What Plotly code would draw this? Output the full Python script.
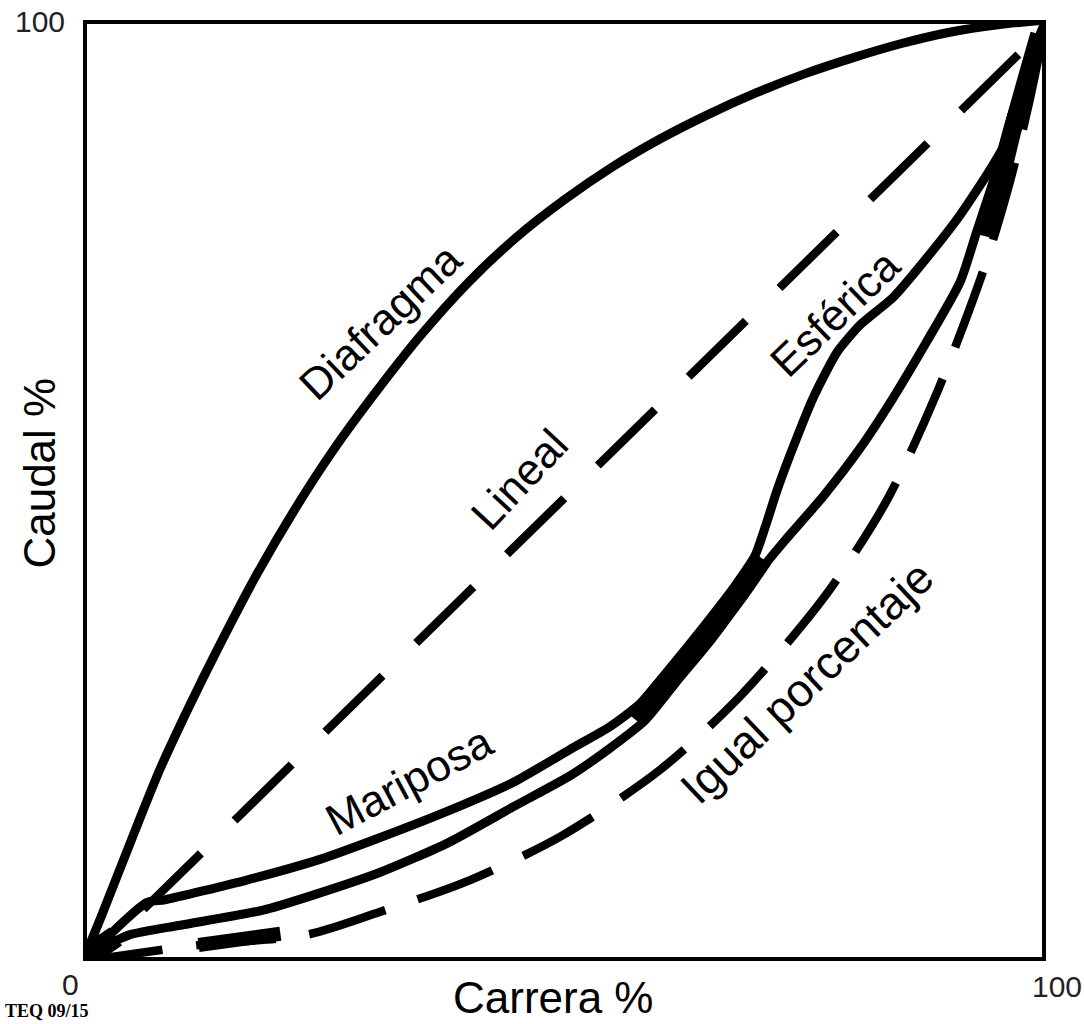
import plotly.graph_objects as go

# ---------------- data (Carrera % vs Caudal %) ----------------
diafragma_x = [0, 2, 5, 8, 11, 14, 18, 22, 26, 30, 35, 40, 45, 50, 55, 60, 65, 70, 75, 80,
               85, 90, 95, 100]
diafragma_y = [0, 5.0, 12.8, 20.4, 27.0, 33.2, 41.0, 48.0, 54.3, 59.9, 66.4, 72.1, 76.9, 80.9,
               84.4, 87.4, 90.0, 92.3, 94.3, 96.0, 97.5, 98.7, 99.5, 100]

lineal_x = [6.3, 100]
lineal_y = [5.5, 99.2]

mariposa_x = [0, 6.6, 8.5, 17.0, 24.6, 30.8, 37.8, 44.7, 50.6, 54.7, 57.8, 61.2, 64.6, 67.7,
              69.8, 70.9, 72.1, 73.7, 75.8, 78.3, 80.7, 84.1, 87.6, 91.1, 94.5, 97.3, 99.4, 100]
mariposa_y = [0, 6.2, 6.5, 8.6, 10.8, 13.1, 15.9, 19.0, 22.5, 24.9, 27.3, 31.3, 35.6, 39.6,
              43.1, 46.3, 50.1, 54.5, 59.8, 64.7, 67.6, 70.5, 74.7, 79.3, 84.6, 89.9, 97.3, 100]

esferica_x = [0, 2.3, 4.9, 10.1, 18.7, 23.9, 30.8, 37.8, 44.7, 50.6, 54.7, 58.4, 61.8, 65.2,
              68.3, 70.8, 72.9, 76.8, 80.7, 84.1, 87.6, 91.1, 92.8, 94.5, 96.3, 98.3, 100]
esferica_y = [0, 1.6, 2.8, 3.8, 5.4, 7.0, 9.4, 12.5, 16.4, 19.7, 22.6, 25.6, 29.9, 34.1,
              38.4, 42.1, 44.7, 49.3, 54.5, 59.8, 65.8, 72.2, 77.5, 82.8, 89.4, 95.7, 100]

igual_x = [0, 12.1, 23.3, 30.8, 40.2, 49.7, 59.9, 68.2, 77.0, 83.5, 88.8, 93.5, 96.3, 98.3, 100]
igual_y = [0, 1.7, 2.8, 5.2, 8.6, 13.3, 20.3, 28.1, 38.7, 49.0, 60.7, 73.4, 83.0, 91.5, 100]

# dark zones where several curves run together
banda_x = [57.4, 61.5, 64.9, 68.0, 70.5]
banda_y = [25.6, 30.7, 35.0, 39.1, 42.8]
banda_sup_x = [93.8, 94.8, 96.8, 99.3]
banda_sup_y = [77.0, 81.0, 89.4, 98.5]
banda_inf_x = [12.0, 20.5]
banda_inf_y = [1.7, 2.9]
banda_origen_x = [0.4, 3.4]
banda_origen_y = [0.5, 2.6]

curve_labels = ["Diafragma", "Lineal", "Esférica", "Mariposa", "Igual porcentaje"]
tick_labels = ["0", "100", "100"]

# ---------------- figure ----------------
fig = go.Figure()

def add_line(x, y, width, dash="solid", shape="spline", smoothing=0.8):
    fig.add_trace(go.Scatter(
        x=x, y=y, mode="lines",
        line=dict(color="black", width=width, dash=dash, shape=shape, smoothing=smoothing),
        hoverinfo="skip", showlegend=False, cliponaxis=False))

add_line(diafragma_x, diafragma_y, 9)
add_line(lineal_x, lineal_y, 8.5, dash="80px,47px", shape="linear")
add_line(mariposa_x, mariposa_y, 9, smoothing=0.6)
add_line(esferica_x, esferica_y, 9, smoothing=0.6)
add_line(igual_x, igual_y, 8.5, dash="80px,34px")
add_line(banda_x, banda_y, 22, smoothing=0.6)
add_line(banda_sup_x, banda_sup_y, 18, smoothing=0.6)
add_line(banda_inf_x, banda_inf_y, 14, shape="linear")
add_line(banda_origen_x, banda_origen_y, 22, shape="linear")

LBL = dict(family="Liberation Sans, Arial, sans-serif", size=44, color="black")

# curve labels (rotated along the curves)
lab_pos = [(0.3084, 0.6801, -43.5, 44), (0.4528, 0.5112, -47, 44), (0.7799, 0.6886, -44, 44),
           (0.3385, 0.1923, -28, 44), (0.7518, 0.2965, -43.5, 46)]
for txt, (px, py, ang, fs) in zip(curve_labels, lab_pos):
    fig.add_annotation(x=px, y=py, xref="paper", yref="paper", text=txt, textangle=ang,
                       showarrow=False, font=dict(LBL, size=fs),
                       xanchor="center", yanchor="middle")

TICK = dict(family="Liberation Sans, Arial, sans-serif", size=30, color="#222222")
fig.add_annotation(x=-0.0125, y=-0.0255, xref="paper", yref="paper", text=tick_labels[0],
                   showarrow=False, font=TICK, xanchor="center", yanchor="middle")
fig.add_annotation(x=1.0114, y=-0.0276, xref="paper", yref="paper", text=tick_labels[1],
                   showarrow=False, font=TICK, xanchor="center", yanchor="middle")
fig.add_annotation(x=-0.0447, y=0.998, xref="paper", yref="paper", text=tick_labels[2],
                   showarrow=False, font=TICK, xanchor="center", yanchor="middle")

TITLE = dict(family="Liberation Sans, Arial, sans-serif", size=44, color="black")
fig.add_annotation(x=0.489, y=-0.039, xref="paper", yref="paper", text="Carrera %",
                   showarrow=False, font=TITLE, xanchor="center", yanchor="middle")
fig.add_annotation(x=-0.0447, y=0.519, xref="paper", yref="paper", text="Caudal %",
                   textangle=-90, showarrow=False, font=TITLE, xanchor="center", yanchor="middle")

fig.add_annotation(x=-0.083, y=-0.0659, xref="paper", yref="paper", text="<b>TEQ 09/15</b>",
                   showarrow=False, xanchor="left", yanchor="bottom",
                   font=dict(family="Liberation Serif, Times New Roman, serif", size=18, color="black"))

# frame
fig.add_shape(type="rect", xref="x", yref="y", x0=0, y0=0, x1=100, y1=100,
              line=dict(color="black", width=8), layer="above")

fig.update_xaxes(range=[0, 100], showgrid=False, zeroline=False, showticklabels=False,
                 ticks="", showline=False, fixedrange=True)
fig.update_yaxes(range=[0, 100], showgrid=False, zeroline=False, showticklabels=False,
                 ticks="", showline=False, fixedrange=True)

fig.update_layout(width=1084, height=1024, margin=dict(l=83, r=38, t=20, b=63),
                  paper_bgcolor="white", plot_bgcolor="white", showlegend=False)

fig.write_html("out.html", config={"displayModeBar": False},
               post_script="document.body.style.margin='0';")
